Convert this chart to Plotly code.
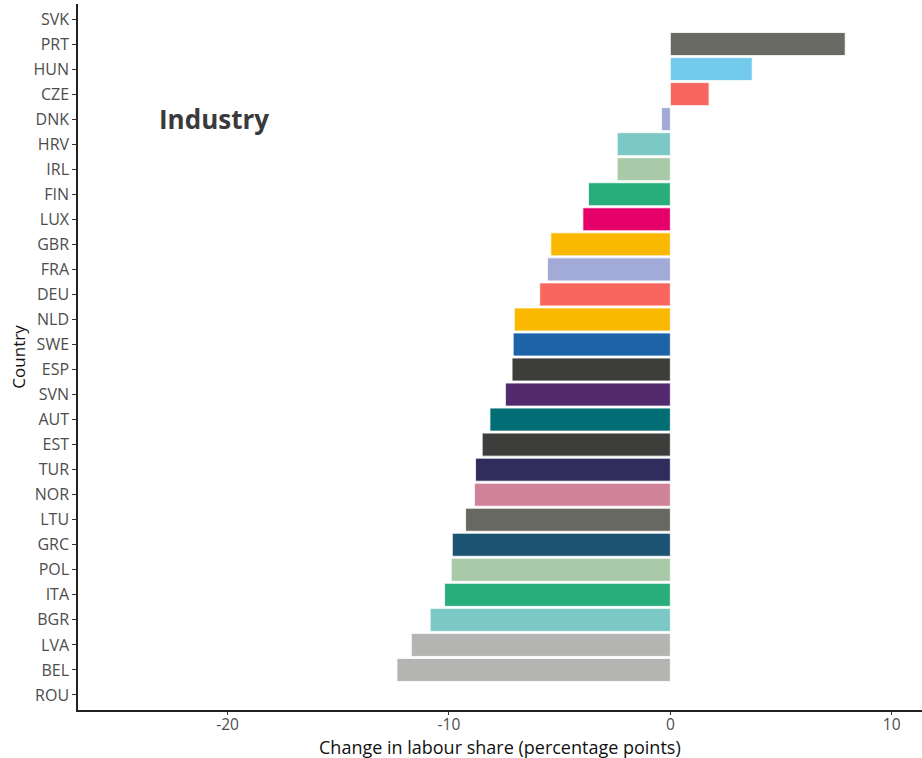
import plotly.graph_objects as go

countries = ["SVK", "PRT", "HUN", "CZE", "DNK", "HRV", "IRL", "FIN", "LUX", "GBR",
             "FRA", "DEU", "NLD", "SWE", "ESP", "SVN", "AUT", "EST", "TUR", "NOR",
             "LTU", "GRC", "POL", "ITA", "BGR", "LVA", "BEL", "ROU"]
values = [None, 7.9, 3.7, 1.75, -0.4, -2.4, -2.4, -3.7, -3.95, -5.4,
          -5.55, -5.9, -7.05, -7.1, -7.15, -7.45, -8.15, -8.5, -8.8, -8.85,
          -9.25, -9.85, -9.9, -10.2, -10.85, -11.7, -12.35, None]
colors = ["#FFFFFF", "#696A63", "#73CBEC", "#F8665F", "#A2AAD7", "#7CC8C4", "#A8CAA9", "#27AE7A", "#E5006A", "#FAB900",
          "#A2AAD7", "#F8665F", "#FAB900", "#1D63A8", "#3D3D3C", "#532A6E", "#006E74", "#3D3D3C", "#302D5D", "#CE839B",
          "#686862", "#1C5373", "#A8CAA9", "#27AE7A", "#7CC8C4", "#B4B4B3", "#B4B4B3", "#FFFFFF"]
x_ticks = [-20, -10, 0, 10]
panel_label = "Industry"
x_title = "Change in labour share (percentage points)"
y_title = "Country"

fig = go.Figure()
fig.add_trace(go.Bar(
    x=values, y=countries, orientation="h",
    marker=dict(color=colors, line=dict(color="rgba(255,255,255,0.8)", width=1)),
    width=0.92, showlegend=False,
))

fig.add_annotation(x=-20.6, y="DNK", text="<b>" + panel_label + "</b>", showarrow=False,
                   font=dict(family="Open Sans", size=26, color="#3a3a3a"))
fig.add_annotation(x=0.5, xref="paper", y=-0.0525, yref="paper", yanchor="middle",
                   text=x_title, showarrow=False,
                   font=dict(family="Open Sans", size=18, color="#111"))

fig.update_layout(
    width=922, height=758,
    margin=dict(l=78, r=0, t=4, b=48, autoexpand=False),
    plot_bgcolor="white", paper_bgcolor="white",
    font=dict(family="Open Sans", color="#4d4d4d"),
    xaxis=dict(range=[-26.76, 11.37], tickvals=x_ticks, ticktext=[str(v) for v in x_ticks],
               showgrid=False, zeroline=False, showline=True, linecolor="#222", linewidth=1.5,
               ticks="outside", ticklen=3, tickcolor="#333", tickfont=dict(size=15.5, color="#4d4d4d"),
               ticklabelstandoff=-3, automargin=False),
    yaxis=dict(categoryorder="array", categoryarray=countries, range=[27.6, -0.6],
               showgrid=False, zeroline=False, showline=True, linecolor="#222", linewidth=1.5,
               ticks="outside", ticklen=4, tickcolor="#333", tickfont=dict(size=16, color="#4d4d4d"),
               automargin=False,
               title=dict(text=y_title, font=dict(size=17, color="#111"), standoff=4)),
)

fig.write_html("out.html", config={"displayModeBar": False},
               post_script="document.body.style.margin='0';document.body.style.overflow='hidden';")
